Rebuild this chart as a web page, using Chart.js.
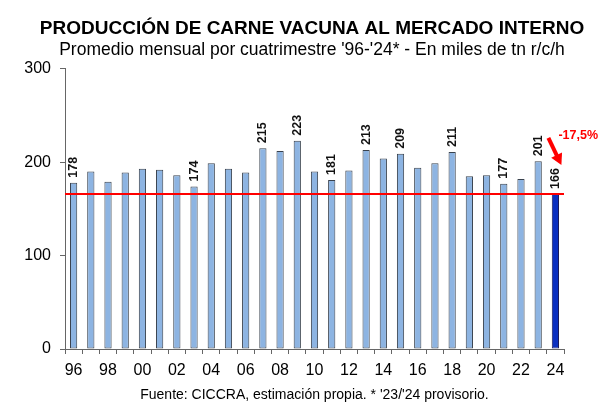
<!DOCTYPE html>
<html>
<head>
<meta charset="utf-8">
<script src="https://cdn.jsdelivr.net/npm/chart.js@4/dist/chart.umd.min.js"></script>
<style>
  html, body { margin: 0; padding: 0; background: #fff; }
  #wrap { width: 600px; height: 414px; }
</style>
</head>
<body>
<div id="wrap"><canvas id="c" width="600" height="414"></canvas></div>
<script>
const years = ['96','97','98','99','00','01','02','03','04','05','06','07','08','09','10',
  '11','12','13','14','15','16','17','18','19','20','21','22','23','24'];
const values = [178, 190, 179, 189, 193, 192, 186, 174, 199, 193, 189, 215, 212, 223, 190,
  181, 191, 213, 204, 209, 194, 199, 211, 185, 186, 177, 182, 201, 166];
// años con la cifra escrita sobre la barra
const labeled = ['96','03','07','09','11','13','15','18','21','23','24'];
const refLevel = 166;
const changeText = '-17,5%';

const fills = values.map((v, i) => i === values.length - 1 ? '#0b2fc0' : '#8db4e2');
const borders = values.map((v, i) => i === values.length - 1 ? '#1a1a5a' : '#39424e');

const overlay = {
  id: 'overlay',
  afterDatasetsDraw(chart) {
    const ctx = chart.ctx;
    const x = chart.scales.x, y = chart.scales.y;
    const area = chart.chartArea;

    // línea de referencia
    const yl = y.getPixelForValue(refLevel);
    ctx.save();
    ctx.strokeStyle = '#ff0000';
    ctx.lineWidth = 2;
    ctx.beginPath();
    ctx.moveTo(area.left, yl);
    ctx.lineTo(area.right, yl);
    ctx.stroke();

    // etiquetas verticales
    ctx.fillStyle = '#111';
    ctx.font = 'bold 12.5px "Liberation Sans", Arial, sans-serif';
    ctx.textAlign = 'left';
    ctx.textBaseline = 'middle';
    const meta = chart.getDatasetMeta(0);
    years.forEach((yr, i) => {
      if (!labeled.includes(yr)) return;
      const bar = meta.data[i];
      ctx.save();
      ctx.translate(bar.x, bar.y - 5);
      ctx.rotate(-Math.PI / 2);
      ctx.fillText(String(values[i]), 0, 0);
      ctx.restore();
    });

    // flecha y variación
    const last = meta.data[values.length - 1];
    const ax0 = last.x - 7, ay0 = y.getPixelForValue(226);
    const ax1 = last.x + 6, ay1 = y.getPixelForValue(197);
    const ang = Math.atan2(ay1 - ay0, ax1 - ax0);
    ctx.strokeStyle = '#ff0000';
    ctx.fillStyle = '#ff0000';
    ctx.lineWidth = 4;
    ctx.beginPath();
    ctx.moveTo(ax0, ay0);
    ctx.lineTo(ax1 - 8 * Math.cos(ang), ay1 - 8 * Math.sin(ang));
    ctx.stroke();
    ctx.beginPath();
    ctx.moveTo(ax1, ay1);
    ctx.lineTo(ax1 - 11 * Math.cos(ang) + 6 * Math.sin(ang), ay1 - 11 * Math.sin(ang) - 6 * Math.cos(ang));
    ctx.lineTo(ax1 - 11 * Math.cos(ang) - 6 * Math.sin(ang), ay1 - 11 * Math.sin(ang) + 6 * Math.cos(ang));
    ctx.closePath();
    ctx.fill();
    ctx.font = 'bold 12.5px "Liberation Sans", Arial, sans-serif';
    ctx.textAlign = 'left';
    ctx.fillText(changeText, last.x + 3, y.getPixelForValue(229));
    ctx.restore();
  }
};

new Chart(document.getElementById('c'), {
  type: 'bar',
  data: {
    labels: years,
    datasets: [{
      data: values,
      backgroundColor: fills,
      borderColor: borders,
      borderWidth: 1,
      borderSkipped: false,
      barPercentage: 0.42,
      categoryPercentage: 1.0
    }]
  },
  options: {
    responsive: false,
    animation: false,
    layout: { padding: { left: 24, right: 0, top: 13, bottom: 10 } },
    plugins: {
      legend: { display: false },
      tooltip: { enabled: false },
      title: {
        display: true,
        text: 'PRODUCCIÓN DE CARNE VACUNA AL MERCADO INTERNO',
        color: '#000',
        font: { family: '"Liberation Sans", Arial, sans-serif', size: 19, weight: 'bold' },
        padding: { top: 4, bottom: 0 }
      },
      subtitle: {
        display: true,
        text: "Promedio mensual por cuatrimestre '96-'24* - En miles de tn r/c/h",
        color: '#000',
        font: { family: '"Liberation Sans", Arial, sans-serif', size: 17.5 },
        padding: { top: 0, bottom: 8 }
      }
    },
    scales: {
      x: {
        offset: true,
        grid: { display: true, drawOnChartArea: false, offset: true, tickLength: 5, color: '#666' },
        border: { color: '#666' },
        ticks: {
          autoSkip: false,
          maxRotation: 0,
          color: '#000',
          padding: 7,
          font: { family: '"Liberation Sans", Arial, sans-serif', size: 16 },
          callback: (v, i) => i % 2 === 0 ? years[i] : ''
        },
        title: {
          display: true,
          text: "Fuente: CICCRA, estimación propia. * '23/'24 provisorio.",
          color: '#000',
          font: { family: '"Liberation Sans", Arial, sans-serif', size: 14 },
          padding: { top: 0, bottom: 0 }
        }
      },
      y: {
        min: 0,
        max: 300,
        afterFit: s => { s.width = 41; },
        grid: { display: true, drawOnChartArea: false, tickLength: 5, color: '#666' },
        border: { color: '#666' },
        ticks: {
          stepSize: 100,
          color: '#000',
          padding: 9,
          font: { family: '"Liberation Sans", Arial, sans-serif', size: 16 }
        }
      },
      // margen derecho vacío a la derecha del eje x
      yRight: {
        position: 'right',
        afterFit: s => { s.width = 36; },
        grid: { display: false },
        border: { display: false },
        ticks: { display: false }
      }
    }
  },
  plugins: [overlay]
});
</script>
</body>
</html>
